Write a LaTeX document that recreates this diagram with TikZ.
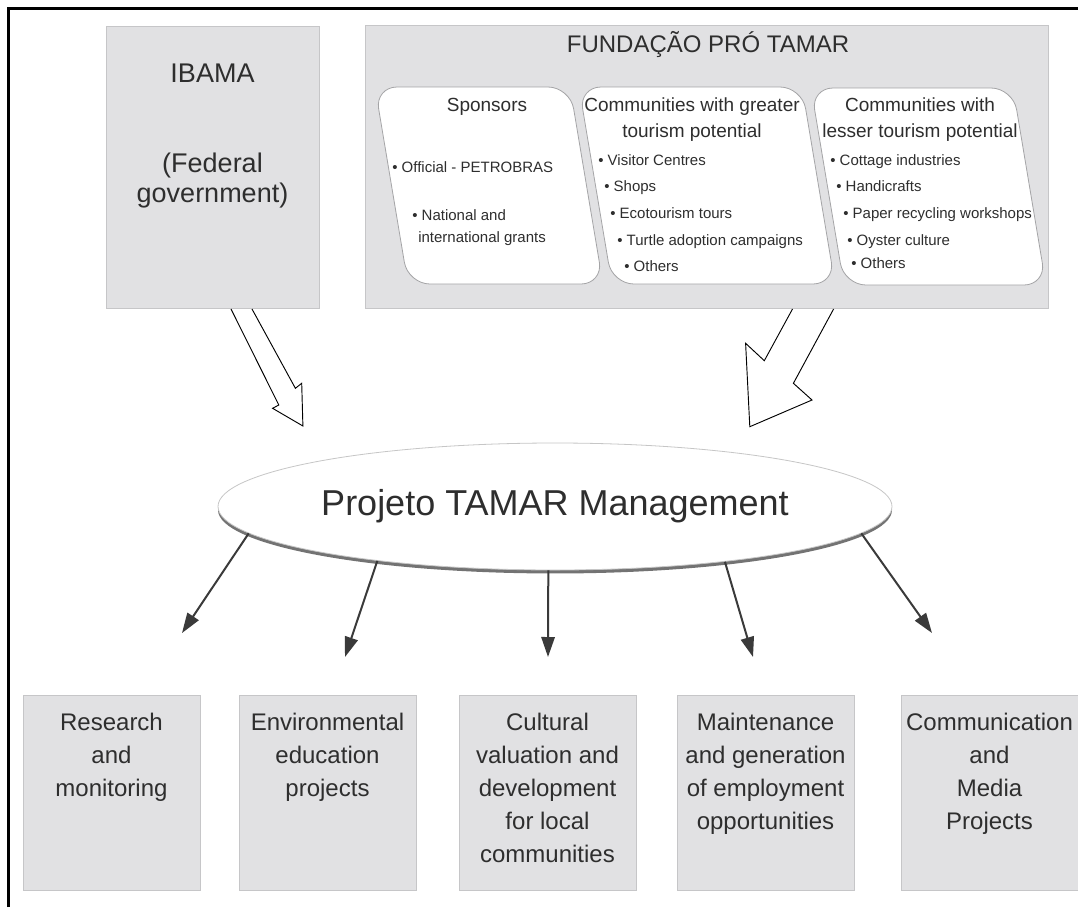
\documentclass[tikz,border=0pt]{standalone}
\usepackage{fontspec}
\setmainfont{Liberation Sans}
\usepackage{tikz}
\usetikzlibrary{positioning, shapes.geometric, arrows.meta, shadows}

\definecolor{panelfill}{HTML}{E1E1E3}
\definecolor{panelline}{HTML}{C6C6C8}
\definecolor{cardline}{HTML}{A4A4A6}
\definecolor{ink}{HTML}{2E2E2E}
\definecolor{spokegray}{HTML}{3A3A3A}

\tikzset{
  panel/.style={draw=panelline, fill=panelfill, line width=0.6pt, inner sep=0pt, outer sep=0pt},
  card/.style={draw=cardline, fill=white, line width=0.6pt, rounded corners=16.5pt},
  big/.style={font=\fontsize{20.25pt}{22.5pt}\selectfont, text=ink, inner sep=0pt, align=center},
  head/.style={font=\fontsize{14.25pt}{19.1pt}\selectfont, text=ink, inner sep=0pt, align=center},
  item/.style={font=\fontsize{11.25pt}{13.5pt}\selectfont, text=ink, inner sep=0pt, anchor=base west},
  boxtext/.style={font=\fontsize{18pt}{24.75pt}\selectfont, text=ink, inner sep=0pt, align=center},
  project/.style={panel, minimum width=132.75pt, minimum height=146.25pt, anchor=north west},
  block/.style={draw=black, fill=white, line width=0.7pt, line join=miter},
  spoke/.style={draw=spokegray, line width=1.5pt, -{Triangle[length=15pt, width=10pt]}}
}

\begin{document}
\begin{tikzpicture}[x=0.75pt, y=-0.75pt, node distance=10pt]
  \useasboundingbox (0,0) rectangle (1078,907);
  \draw[line width=1.7pt] (8.5,907) -- (8.5,8.5) -- (1078,8.5);

  % funding bodies
  \node[panel, minimum width=159.75pt, minimum height=211.5pt, anchor=north west] (ibama) at (106,26) {};
  \node[panel, minimum width=512.25pt, minimum height=212.25pt, anchor=north west] (fundacao) at (365,25) {};

  \node[big, anchor=base]  (ibama name) at (212.5,82) {IBAMA};
  \node[big, anchor=north] (ibama role) at (212.5,153) {(Federal\\government)};
  \node[big, font=\fontsize{18pt}{22pt}\selectfont, anchor=base] (fundacao name) at (708,52) {FUNDAÇÃO PRÓ TAMAR};

  \draw[card] (375,87) -- (570,87) -- (603,284) -- (408,284) -- cycle;
  \draw[card] (579,87) -- (802,87) -- (835,284) -- (612,284) -- cycle;
  \draw[card] (811,88) -- (1013,88) -- (1046,285) -- (844,285) -- cycle;

  \node[head, anchor=base] (sponsors) at (487,111) {Sponsors};
  \node[item] (sponsor 1) at (392,172) {• Official - PETROBRAS};
  \node[item] (sponsor 2) at (412,220) {• National and};
  \node[item] (sponsor 3) at (418,242) {international grants};

  \node[head, anchor=north] (greater) at (692,97.7) {Communities with greater\\tourism potential};
  \node[item] (greater 1) at (598,165)   {• Visitor Centres};
  \node[item] (greater 2) at (604,191.7) {• Shops};
  \node[item] (greater 3) at (610,218)   {• Ecotourism tours};
  \node[item] (greater 4) at (617,245)   {• Turtle adoption campaigns};
  \node[item] (greater 5) at (624,271.7) {• Others};

  \node[head, anchor=north] (lesser) at (920,97.7) {Communities with\\lesser tourism potential};
  \node[item] (lesser 1) at (830,165)   {• Cottage industries};
  \node[item] (lesser 2) at (836,191.7) {• Handicrafts};
  \node[item] (lesser 3) at (843,218)   {• Paper recycling workshops};
  \node[item] (lesser 4) at (847,245)   {• Oyster culture};
  \node[item] (lesser 5) at (851,268)   {• Others};

  % block arrows into the management
  \draw[block] (231,309) -- (278.8,405) -- (272.6,408.3) -- (302.9,426)
    -- (301.7,383.3) -- (295.4,388.3) -- (252,309);
  \draw[block] (792.5,309) -- (764.3,360.7) -- (745.6,343.3) -- (749.8,426.7)
    -- (812,400) -- (793.4,383.3) -- (833.6,309);

  \node[ellipse, draw=gray!45, fill=white, line width=0.6pt, minimum width=505.5pt,
    minimum height=95.25pt, inner sep=0pt, text=ink, font=\fontsize{27pt}{30pt}\selectfont,
    drop shadow={shadow xshift=0pt, shadow yshift=-2.6pt, fill=black!55, opacity=1}]
    (management) at (555,506.5) {Projeto TAMAR Management};

  % projects
  \node[project] (project 1) at (23,695)  {};
  \node[project] (project 2) at (239,695) {};
  \node[project] (project 3) at (459,695) {};
  \node[project] (project 4) at (677,695) {};
  \node[project] (project 5) at (901,695) {};

  \node[boxtext, below=13.1pt of project 1.north] (label 1) {Research\\and\\monitoring};
  \node[boxtext, below=13.1pt of project 2.north] (label 2) {Environmental\\education\\projects};
  \node[boxtext, below=13.1pt of project 3.north] (label 3) {Cultural\\valuation and\\development\\for local\\communities};
  \node[boxtext, below=13.1pt of project 4.north] (label 4) {Maintenance\\and generation\\of employment\\opportunities};
  \node[boxtext, below=13.1pt of project 5.north] (label 5) {Communication\\and\\Media\\Projects};

  \coordinate (tip 1) at (182,633);
  \coordinate (tip 2) at (345,657);
  \coordinate (tip 3) at (548,657);
  \coordinate (tip 4) at (753,657);
  \coordinate (tip 5) at (932,633);

  \draw[spoke] (management.185) -- (tip 1);
  \draw[spoke] (management.197) -- (tip 2);
  \draw[spoke] (management.264) -- (tip 3);
  \draw[spoke] (management.342) -- (tip 4);
  \draw[spoke] (management.355.5) -- (tip 5);
\end{tikzpicture}
\end{document}
